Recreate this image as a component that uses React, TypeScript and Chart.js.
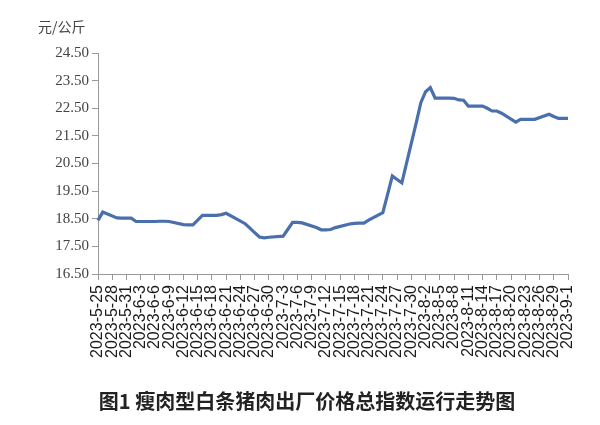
import React, { useEffect, useRef } from 'react';
import { Chart, registerables, Plugin } from 'chart.js';

Chart.register(...registerables);

// every calendar day on the axis, 2023-5-25 .. 2023-9-1
const days: string[] = [];
for (let i = 0; i < 100; i++) {
  const d = new Date(Date.UTC(2023, 4, 25 + i));
  days.push(`2023-${d.getUTCMonth() + 1}-${d.getUTCDate()}`);
}

// published (working) days and index values, 元/公斤
const obsDays = [
  '2023-5-25', '2023-5-26', '2023-5-29', '2023-5-30', '2023-5-31', '2023-6-1', '2023-6-2',
  '2023-6-5', '2023-6-6', '2023-6-7', '2023-6-8', '2023-6-9',
  '2023-6-12', '2023-6-13', '2023-6-14', '2023-6-15', '2023-6-16',
  '2023-6-19', '2023-6-20', '2023-6-21', '2023-6-25', '2023-6-26', '2023-6-27', '2023-6-28', '2023-6-29', '2023-6-30',
  '2023-7-3', '2023-7-4', '2023-7-5', '2023-7-6', '2023-7-7',
  '2023-7-10', '2023-7-11', '2023-7-12', '2023-7-13', '2023-7-14',
  '2023-7-17', '2023-7-18', '2023-7-19', '2023-7-20', '2023-7-21',
  '2023-7-24', '2023-7-25', '2023-7-26', '2023-7-27', '2023-7-28',
  '2023-7-31', '2023-8-1', '2023-8-2', '2023-8-3', '2023-8-4',
  '2023-8-7', '2023-8-8', '2023-8-9', '2023-8-10', '2023-8-11',
  '2023-8-14', '2023-8-15', '2023-8-16', '2023-8-17', '2023-8-18',
  '2023-8-21', '2023-8-22', '2023-8-23', '2023-8-24', '2023-8-25',
  '2023-8-28', '2023-8-29', '2023-8-30', '2023-8-31', '2023-9-1',
];
const obsValues = [
  18.44, 18.74, 18.53, 18.52, 18.52, 18.52, 18.40,
  18.40, 18.40, 18.41, 18.41, 18.40,
  18.29, 18.28, 18.28, 18.45, 18.62,
  18.62, 18.65, 18.70, 18.32, 18.16, 18.00, 17.84, 17.81, 17.83,
  17.87, 18.12, 18.37, 18.37, 18.35,
  18.18, 18.10, 18.10, 18.11, 18.18,
  18.31, 18.33, 18.34, 18.34, 18.45,
  18.72, 19.38, 20.05, 19.92, 19.80,
  21.95, 22.70, 23.10, 23.25, 22.87,
  22.87, 22.86, 22.80, 22.79, 22.58,
  22.58, 22.50, 22.40, 22.40, 22.32,
  22.00, 22.10, 22.10, 22.10, 22.10,
  22.28, 22.20, 22.13, 22.13, 22.13,
];

const yMin = 16.5;
const yMax = 24.5;
const yStep = 1;
const labelEvery = 3;

const unitText = '元/公斤';
const captionText = '图1 瘦肉型白条猪肉出厂价格总指数运行走势图';

const textPlugin: Plugin = {
  id: 'extraText',
  afterDraw(chart) {
    const ctx = chart.ctx;
    ctx.save();
    ctx.fillStyle = '#444';
    ctx.font = '14px "Noto Sans CJK SC"';
    ctx.textAlign = 'left';
    ctx.textBaseline = 'middle';
    ctx.fillText(unitText, 38, 27);
    ctx.fillStyle = '#222';
    ctx.font = 'bold 20px "Noto Sans CJK SC"';
    ctx.textAlign = 'center';
    ctx.fillText(captionText, 307, 401);
    ctx.restore();
  },
};

const App: React.FC = () => {
  const canvasRef = useRef<HTMLCanvasElement | null>(null);

  useEffect(() => {
    document.body.style.margin = '0';
    if (!canvasRef.current) return;
    const ctx = canvasRef.current.getContext('2d');
    if (!ctx) return;

    const chart = new Chart(ctx, {
      type: 'line',
      data: {
        labels: days,
        datasets: [
          {
            label: '总指数',
            data: obsDays.map((d, i) => ({ x: d, y: obsValues[i] })),
            borderColor: '#4a6fad',
            borderWidth: 3.2,
            pointRadius: 0,
            tension: 0,
            fill: false,
          },
        ],
      },
      options: {
        animation: false,
        responsive: true,
        maintainAspectRatio: false,
        layout: { padding: { top: 53, right: 32, left: 0, bottom: 41 } },
        plugins: {
          legend: { display: false },
          tooltip: { enabled: false },
        },
        scales: {
          x: {
            type: 'category',
            offset: false,
            afterFit: (scale) => {
              scale.height = 110;
            },
            border: { display: true, color: '#999', width: 1 },
            grid: { drawOnChartArea: false, drawTicks: true, tickLength: 6, color: '#999' },
            ticks: {
              autoSkip: false,
              minRotation: 90,
              maxRotation: 90,
              padding: 5,
              color: '#1a1a1a',
              font: { family: 'Liberation Sans', size: 16 },
              callback: (_v, idx) => (idx % labelEvery === 0 ? days[idx] : null),
            },
          },
          y: {
            min: yMin,
            max: yMax,
            afterFit: (scale) => {
              scale.width = 98;
            },
            border: { display: true, color: '#999', width: 1 },
            grid: { drawOnChartArea: false, drawTicks: true, tickLength: 6, color: '#999' },
            ticks: {
              stepSize: yStep,
              padding: 3,
              color: '#444',
              font: { family: 'Liberation Serif', size: 15 },
              callback: (v) => Number(v).toFixed(2),
            },
          },
        },
      },
      plugins: [textPlugin],
    });

    return () => chart.destroy();
  }, []);

  return (
    <div style={{ width: 600, height: 425, position: 'relative', background: '#fff' }}>
      <canvas ref={canvasRef} />
    </div>
  );
};

export default App;
